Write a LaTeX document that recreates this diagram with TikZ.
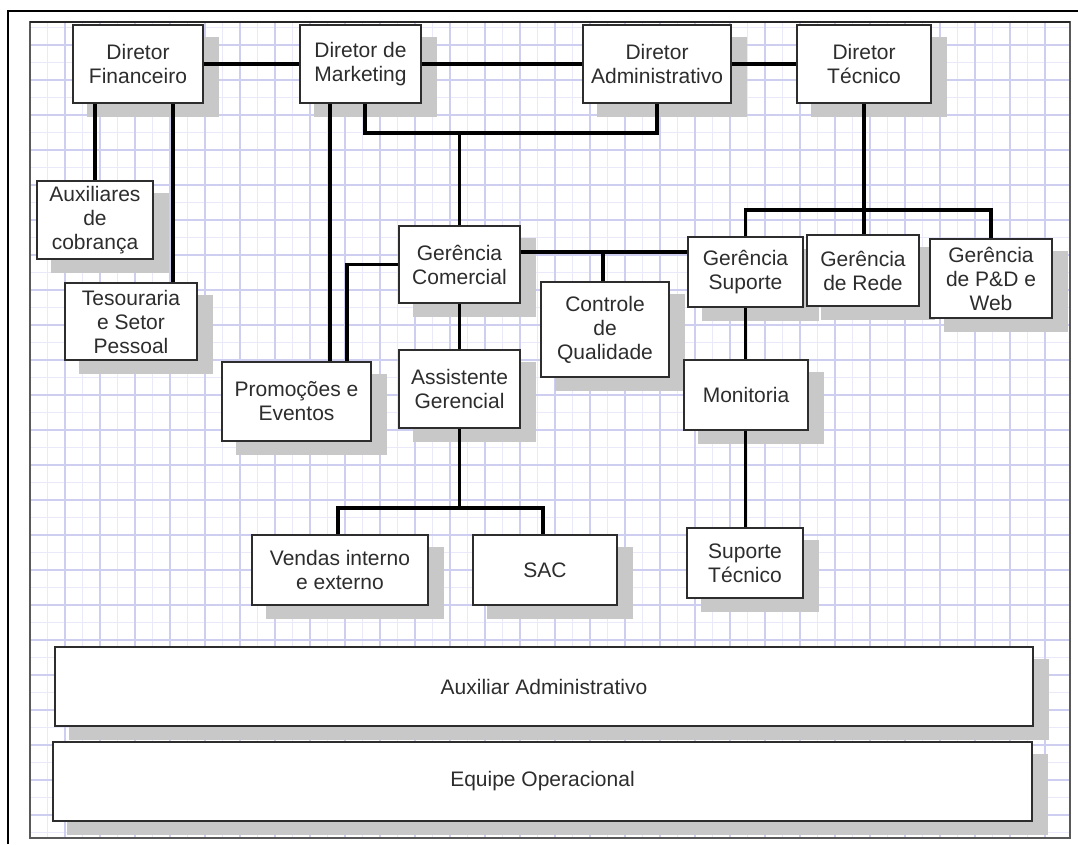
\documentclass[tikz,border=0pt]{standalone}
\usepackage{fontspec}
\setmainfont{Liberation Sans}
\usetikzlibrary{calc}
\pgfdeclarelayer{gridlayer}
\pgfdeclarelayer{shadelayer}
\pgfsetlayers{gridlayer,shadelayer,main}

\definecolor{gridmajor}{RGB}{206,206,240}
\definecolor{gridminor}{RGB}{233,233,250}
\definecolor{shadecol}{RGB}{200,200,200}
\definecolor{ink}{RGB}{45,45,45}

\begin{document}
\begin{tikzpicture}[x=1pt,y=-1pt,
  box/.style={draw=ink, line width=1.8pt, fill=white, align=center,
    inner sep=0pt, text=ink, font=\fontsize{21}{24}\selectfont},
  wire/.style={black, line width=3.2pt},
  gminor/.style={gridminor, line width=0.8pt},
  gmajor/.style={gridmajor, line width=1.2pt},
]
\useasboundingbox (0,0) rectangle (1078,844);

% squared paper
\begin{pgfonlayer}{gridlayer}
  \fill[white] (0,0) rectangle (1078,844);
  \foreach \x in {47.5,82.5,...,1053} \draw[gminor] (\x,22) -- (\x,838);
  \foreach \y in {27.5,62.5,...,833} \draw[gminor] (30,\y) -- (1070,\y);
  \foreach \x in {65,100,...,1046} \draw[gmajor] (\x,22) -- (\x,838);
  \foreach \y in {45,80,...,816} \draw[gmajor] (30,\y) -- (1070,\y);
  \draw[gray!70!black, line width=1.2pt] (30,22) rectangle (1070,838);
  \draw[black!85, line width=2pt] (30,22) -- (1070,22);
  \draw[black, line width=2pt] (8,844) -- (8,11) -- (1078,11);
\end{pgfonlayer}

% directors
\node[box, minimum width=130pt, minimum height=78pt] (df) at (138,64) {Diretor\\Financeiro};
\node[box, minimum width=121pt, minimum height=78pt] (dm) at (360.5,64) {Diretor de\\Marketing};
\node[box, minimum width=148pt, minimum height=78pt] (da) at (657,64) {Diretor\\Administrativo};
\node[box, minimum width=134pt, minimum height=78pt] (dt) at (864,64) {Diretor\\T\'ecnico};

% finance
\node[box, minimum width=116pt, minimum height=78pt] (aux) at (95,220) {Auxiliares\\de\\cobran\c{c}a};
\node[box, minimum width=132pt, minimum height=77pt] (tes) at (131,321.5) {Tesouraria\\e Setor\\Pessoal};

% commercial
\node[box, minimum width=149pt, minimum height=79pt] (prom) at (296.5,401.5) {Promo\c{c}\~oes e\\Eventos};
\node[box, minimum width=121pt, minimum height=77pt] (gc) at (459.5,264.5) {Ger\^encia\\Comercial};
\node[box, minimum width=121pt, minimum height=78pt] (ag) at (459.5,389) {Assistente\\Gerencial};
\node[box, minimum width=128pt, minimum height=95pt] (cq) at (605,329.5) {Controle\\de\\Qualidade};
\node[box, minimum width=176pt, minimum height=70pt] (ven) at (340,570) {Vendas interno\\e externo};
\node[box, minimum width=144pt, minimum height=70pt] (sac) at (545,570) {SAC};

% technical
\node[box, minimum width=115pt, minimum height=70pt] (gs) at (745.5,272) {Ger\^encia\\Suporte};
\node[box, minimum width=112pt, minimum height=71pt] (gr) at (863,270.5) {Ger\^encia\\de Rede};
\node[box, minimum width=122pt, minimum height=79pt] (gp) at (991,278.5) {Ger\^encia\\de P\&D e\\Web};
\node[box, minimum width=124pt, minimum height=70pt] (mon) at (746,395) {Monitoria};
\node[box, minimum width=116pt, minimum height=70pt] (st) at (745,563) {Suporte\\T\'ecnico};

% staff bands
\node[box, minimum width=978pt, minimum height=79pt] (aa) at (544,686.5) {Auxiliar Administrativo};
\node[box, minimum width=979pt, minimum height=79pt] (eo) at (542.5,781.5) {Equipe Operacional};

% flat shadows behind every box
\begin{pgfonlayer}{shadelayer}
  \foreach \n in {df,dm,da,dt,aux,tes,prom,gc,ag,cq,ven,sac,gs,gr,gp,mon,st,aa,eo}
    \fill[shadecol] ([shift={(15,13)}]\n.north west) rectangle ([shift={(15,13)}]\n.south east);
\end{pgfonlayer}

% junction points
\coordinate (mj) at (gc.north |- 0,133);
\coordinate (cj) at (603,252);
\coordinate (sj) at (ag.south |- 0,508);
\coordinate (tj) at (dt.south |- 0,210);

% connectors
\draw[wire] (df) -- (dm);
\draw[wire] (dm) -- (da);
\draw[wire] (da) -- (dt);
\draw[wire] (dm.south -| 365,0) |- (mj) -| (da.south);
\draw[wire] (mj) -- (gc.north);
\draw[wire] (aux.north |- df.south) -- (aux.north);
\draw[wire] (df.south -| 173,0) -- (tes.north -| 173,0);
\draw[wire] (dm.south -| 330,0) -- (prom.north -| 330,0);
\draw[wire] (gc.west) -| (prom.north -| 347,0);
\draw[wire] (gc.east |- cj) -- (gs.west |- cj);
\draw[wire] (cj) -- (cq.north -| cj);
\draw[wire] (gc.south) -- (ag.north);
\draw[wire] (ag.south) -- (sj);
\draw[wire] (ven.north -| 338,0) |- (sj) -| (sac.north -| 543,0);
\draw[wire] (dt.south) -- (dt.south |- gr.north);
\draw[wire] (gs.north) |- (tj) -| (gp.north);
\draw[wire] (gs.south) -- (gs.south |- mon.north);
\draw[wire] (gs.south |- mon.south) -- (gs.south |- st.north);
\end{tikzpicture}
\end{document}
